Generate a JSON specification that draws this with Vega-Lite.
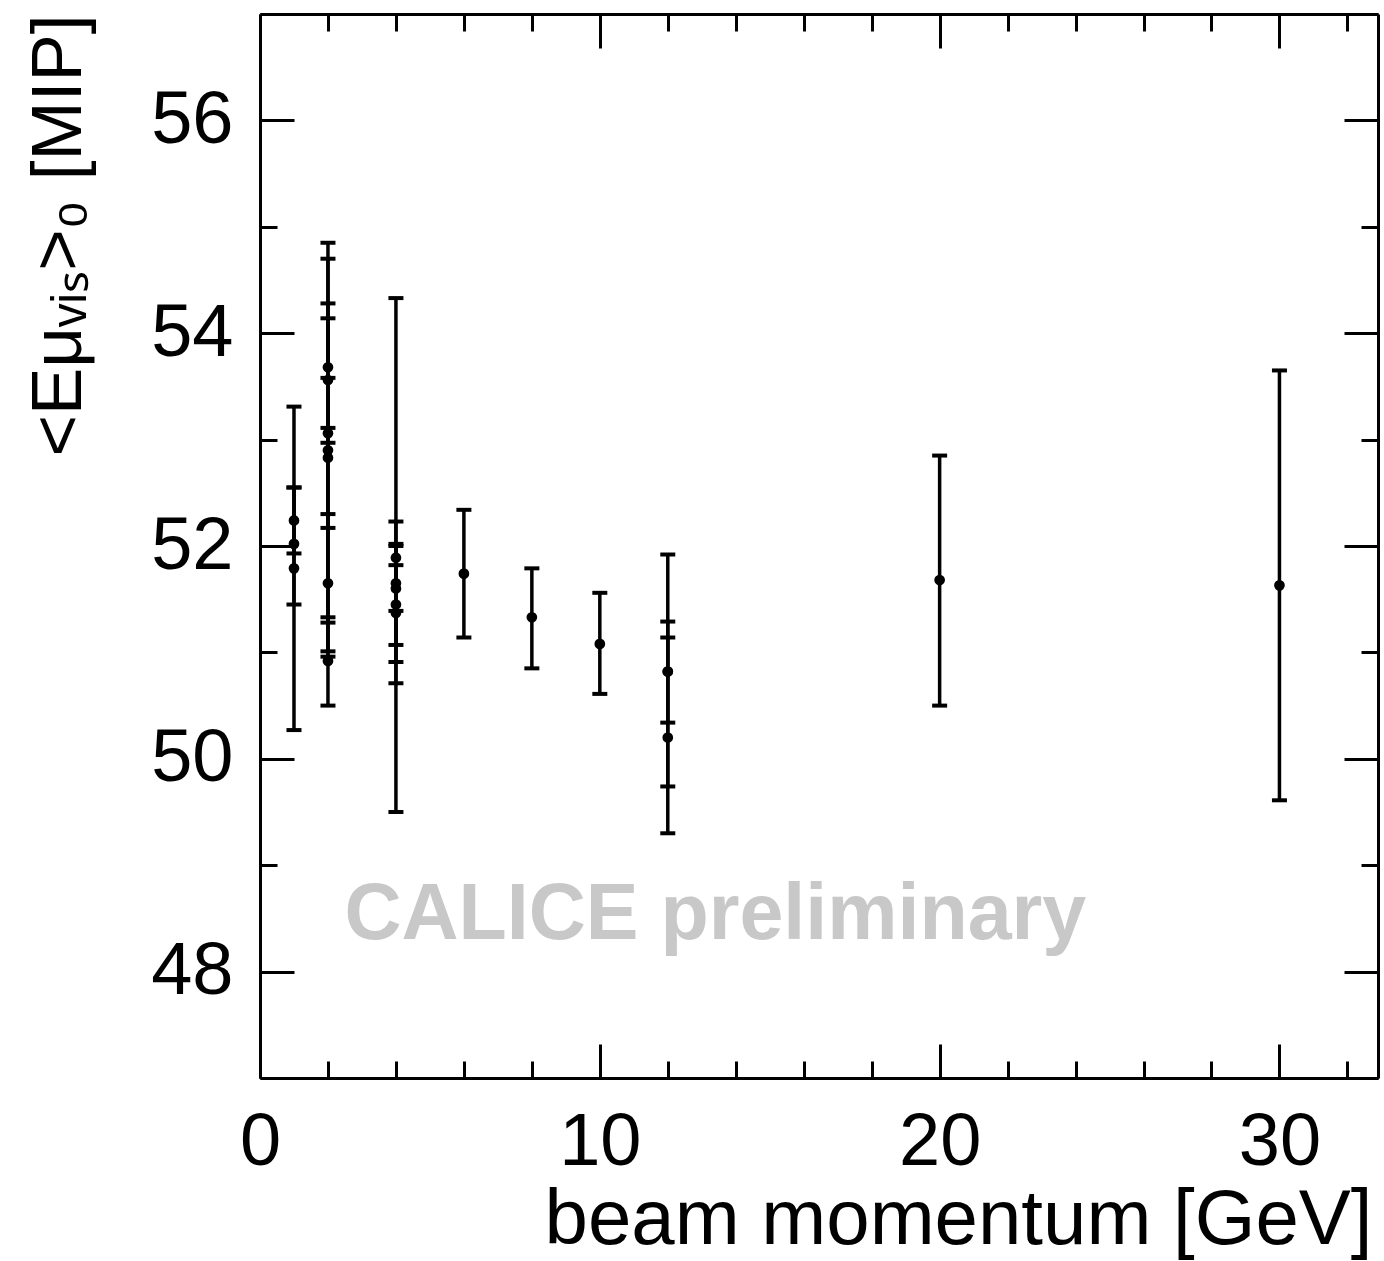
{
  "$schema": "https://vega.github.io/schema/vega-lite/v6.json",
  "width": 1118,
  "height": 1064,
  "autosize": "none",
  "padding": {"left": 260, "top": 14, "right": 6, "bottom": 183},
  "background": "white",
  "config": {
    "view": {"stroke": null},
    "font": "Liberation Sans",
    "axis": {
      "domainColor": "black", "domainWidth": 3, "tickColor": "black", "tickWidth": 3,
      "grid": false, "labelFont": "Liberation Sans", "labelFontSize": 74, "labelColor": "black",
      "titleFont": "Liberation Sans", "titleFontSize": 74, "titleFontWeight": "normal", "titleColor": "black"
    }
  },
  "data": {"values": [
    {"p": 1, "v": 52.24, "lo": 51.93, "hi": 52.55},
    {"p": 1, "v": 52.02, "lo": 51.45, "hi": 52.55},
    {"p": 1, "v": 51.79, "lo": 50.27, "hi": 53.31},
    {"p": 2, "v": 53.68, "lo": 53.11, "hi": 54.28},
    {"p": 2, "v": 53.56, "lo": 52.97, "hi": 54.14},
    {"p": 2, "v": 53.06, "lo": 51.28, "hi": 54.85},
    {"p": 2, "v": 52.90, "lo": 52.17, "hi": 53.58},
    {"p": 2, "v": 52.83, "lo": 50.96, "hi": 54.70},
    {"p": 2, "v": 51.65, "lo": 51.01, "hi": 52.30},
    {"p": 2, "v": 50.92, "lo": 50.50, "hi": 51.33},
    {"p": 4, "v": 51.89, "lo": 49.50, "hi": 54.33},
    {"p": 4, "v": 51.65, "lo": 51.07, "hi": 52.23},
    {"p": 4, "v": 51.60, "lo": 51.39, "hi": 51.82},
    {"p": 4, "v": 51.45, "lo": 50.91, "hi": 52.00},
    {"p": 4, "v": 51.37, "lo": 50.71, "hi": 52.02},
    {"p": 6, "v": 51.74, "lo": 51.14, "hi": 52.34},
    {"p": 8, "v": 51.33, "lo": 50.85, "hi": 51.79},
    {"p": 10, "v": 51.08, "lo": 50.61, "hi": 51.56},
    {"p": 12, "v": 50.82, "lo": 49.74, "hi": 51.92},
    {"p": 12, "v": 50.82, "lo": 50.34, "hi": 51.29},
    {"p": 12, "v": 50.20, "lo": 49.30, "hi": 51.14},
    {"p": 20, "v": 51.68, "lo": 50.50, "hi": 52.85},
    {"p": 30, "v": 51.63, "lo": 49.61, "hi": 53.65}
  ]},
  "layer": [
    {
      "encoding": {
        "x": {"field": "p", "type": "quantitative", "scale": {"domain": [0, 32.9], "nice": false, "zero": false},
          "axis": {"orient": "bottom", "values": [0,2,4,6,8,10,12,14,16,18,20,22,24,26,28,30,32], "format": "d",
            "tickSize": {"condition": {"test": "datum.value % 10 === 0", "value": -34}, "value": -17},
            "labelExpr": "datum.value % 10 === 0 ? datum.label : ''", "labelPadding": 62, "labelFlush": false, "labelOverlap": false,
            "title": "beam momentum [GeV]", "titleFontSize": 78, "titleAnchor": null, "titleX": 1112, "titleY": 165, "titleAlign": "right", "titleBaseline": "alphabetic"}}
      },
      "layer": [
        {
          "mark": {"type": "rule", "color": "black", "strokeWidth": 3.5},
          "encoding": {
            "y": {"field": "lo", "type": "quantitative", "scale": {"domain": [47, 57], "nice": false, "zero": false},
              "axis": {"orient": "left", "values": [47,48,49,50,51,52,53,54,55,56,57], "format": "d",
                "tickSize": {"condition": {"test": "datum.value % 2 === 0", "value": -34}, "value": -17},
                "labelExpr": "datum.value % 2 === 0 ? datum.label : ''", "labelPadding": 61, "labelFlush": false, "labelOverlap": false,
                "title": "<Eμᵥᵢₛ>₀ [MIP]", "titleFontSize": 71, "titleAnchor": null, "titleX": -180, "titleY": 0, "titleAlign": "right", "titleBaseline": "alphabetic", "titleAngle": -90}},
            "y2": {"field": "hi"}
          }
        },
        {
          "mark": {"type": "tick", "color": "black", "opacity": 1, "orient": "horizontal", "size": 15, "thickness": 4},
          "encoding": {"y": {"field": "lo", "type": "quantitative"}}
        },
        {
          "mark": {"type": "tick", "color": "black", "opacity": 1, "orient": "horizontal", "size": 15, "thickness": 4},
          "encoding": {"y": {"field": "hi", "type": "quantitative"}}
        },
        {
          "data": {"values": [{"px": 13.4, "py": 48.53, "t": "CALICE preliminary"}]},
          "mark": {"type": "text", "color": "#c8c8c8", "font": "Liberation Sans", "fontWeight": "bold", "fontSize": 79, "align": "center", "baseline": "middle"},
          "encoding": {"x": {"field": "px", "type": "quantitative"}, "y": {"field": "py", "type": "quantitative"}, "text": {"field": "t"}}
        }
      ]
    },
    {
      "mark": {"type": "circle", "color": "black", "opacity": 1, "size": 115},
      "encoding": {
        "x": {"field": "p", "type": "quantitative",
          "axis": {"orient": "top", "values": [0,2,4,6,8,10,12,14,16,18,20,22,24,26,28,30,32],
            "tickSize": {"condition": {"test": "datum.value % 10 === 0", "value": -34}, "value": -17},
            "labels": false, "title": null}},
        "y": {"field": "v", "type": "quantitative",
          "axis": {"orient": "right", "values": [47,48,49,50,51,52,53,54,55,56,57],
            "tickSize": {"condition": {"test": "datum.value % 2 === 0", "value": -34}, "value": -17},
            "labels": false, "title": null}}
      }
    }
  ],
  "resolve": {"axis": {"x": "independent", "y": "independent"}}
}
